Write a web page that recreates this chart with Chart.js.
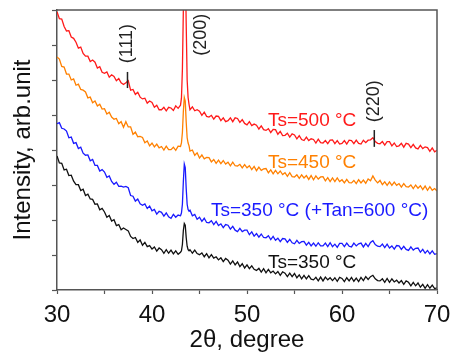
<!DOCTYPE html>
<html>
<head>
<meta charset="utf-8">
<script src="https://cdn.jsdelivr.net/npm/chart.js@4"></script>
<style>
  html, body { margin: 0; padding: 0; background: #fff; }
  canvas { display: block; }
</style>
</head>
<body>
<canvas id="xrd" width="450" height="352"></canvas>
<script>
// 2-theta grid, one row per degree (finer around the (200) reflection)
const twoTheta = [
  30, 30.25, 30.5, 30.75,
  31, 31.25, 31.5, 31.75,
  32, 32.25, 32.5, 32.75,
  33, 33.25, 33.5, 33.75,
  34, 34.25, 34.5, 34.75,
  35, 35.25, 35.5, 35.75,
  36, 36.25, 36.5, 36.75,
  37, 37.25, 37.5, 37.75,
  38, 38.25, 38.5, 38.75,
  39, 39.25, 39.5, 39.75,
  40, 40.25, 40.5, 40.75,
  41, 41.25, 41.5, 41.75,
  42, 42.25, 42.5, 42.75,
  43, 43.1, 43.2, 43.3, 43.4, 43.5, 43.6, 43.7, 43.8, 43.9,
  44, 44.25, 44.5, 44.75,
  45, 45.25, 45.5, 45.75,
  46, 46.25, 46.5, 46.75,
  47, 47.25, 47.5, 47.75,
  48, 48.25, 48.5, 48.75,
  49, 49.25, 49.5, 49.75,
  50, 50.25, 50.5, 50.75,
  51, 51.25, 51.5, 51.75,
  52, 52.25, 52.5, 52.75,
  53, 53.25, 53.5, 53.75,
  54, 54.25, 54.5, 54.75,
  55, 55.25, 55.5, 55.75,
  56, 56.25, 56.5, 56.75,
  57, 57.25, 57.5, 57.75,
  58, 58.25, 58.5, 58.75,
  59, 59.25, 59.5, 59.75,
  60, 60.25, 60.5, 60.75,
  61, 61.25, 61.5, 61.75,
  62, 62.25, 62.5, 62.75,
  63, 63.25, 63.5, 63.75,
  64, 64.25, 64.5, 64.75,
  65, 65.25, 65.5, 65.75,
  66, 66.25, 66.5, 66.75,
  67, 67.25, 67.5, 67.75,
  68, 68.25, 68.5, 68.75,
  69, 69.25, 69.5, 69.75,
  70
];

// intensities (arb. units, curves stacked with offsets)
const ts500 = [
  7.95, 7.75, 7.74, 7.53,
  7.40, 7.41, 7.23, 7.19,
  7.08, 6.91, 6.94, 6.76,
  6.68, 6.68, 6.53, 6.57,
  6.51, 6.34, 6.38, 6.22,
  6.19, 6.23, 6.08, 6.15,
  6.10, 5.98, 6.04, 5.92,
  5.87, 5.92, 5.98, 5.71,
  5.73, 5.59, 5.65, 5.51,
  5.46, 5.48, 5.34, 5.40,
  5.36, 5.22, 5.28, 5.15,
  5.15, 5.22, 5.12, 5.22,
  5.20, 5.13, 5.26, 5.19,
  5.28, 5.48, 6.30, 8.00, 9.60, 9.40, 7.60, 6.00, 5.50, 5.30,
  5.15, 5.23, 5.12, 5.15,
  5.11, 4.99, 5.08, 4.96,
  4.94, 4.99, 4.88, 4.97,
  4.96, 4.84, 4.92, 4.81,
  4.84, 4.92, 4.81, 4.92,
  4.90, 4.79, 4.87, 4.76,
  4.72, 4.81, 4.70, 4.74,
  4.71, 4.60, 4.69, 4.58,
  4.56, 4.61, 4.50, 4.59,
  4.58, 4.45, 4.53, 4.41,
  4.42, 4.48, 4.37, 4.46,
  4.43, 4.32, 4.41, 4.30,
  4.27, 4.37, 4.27, 4.32,
  4.30, 4.20, 4.31, 4.21,
  4.20, 4.27, 4.18, 4.28,
  4.29, 4.18, 4.27, 4.17,
  4.19, 4.27, 4.17, 4.28,
  4.27, 4.18, 4.28, 4.19,
  4.17, 4.28, 4.21, 4.28,
  4.29, 4.35, 4.24, 4.19,
  4.18, 4.24, 4.14, 4.24,
  4.24, 4.12, 4.20, 4.10,
  4.12, 4.19, 4.08, 4.19,
  4.17, 4.07, 4.16, 4.06,
  4.03, 4.13, 4.04, 4.09,
  4.07, 3.96, 4.06, 3.95,
  3.99
];

const ts450 = [
  6.66, 6.60, 6.39, 6.37,
  6.17, 6.17, 6.00, 6.03,
  5.85, 5.88, 5.73, 5.71,
  5.66, 5.49, 5.51, 5.35,
  5.40, 5.26, 5.31, 5.17,
  5.18, 5.03, 5.08, 4.94,
  4.88, 4.90, 4.75, 4.81,
  4.65, 4.81, 4.66, 4.66,
  4.45, 4.51, 4.38, 4.39,
  4.36, 4.21, 4.26, 4.12,
  4.20, 4.09, 4.17, 4.06,
  4.10, 4.00, 4.11, 4.01,
  4.01, 4.08, 3.99, 4.11,
  4.10, 4.20, 4.50, 5.10, 5.50, 5.40, 4.80, 4.35, 4.20, 4.12,
  3.97, 4.00, 3.85, 3.92,
  3.77, 3.86, 3.75, 3.79,
  3.78, 3.66, 3.73, 3.62,
  3.71, 3.61, 3.70, 3.60,
  3.65, 3.55, 3.65, 3.55,
  3.54, 3.59, 3.49, 3.58,
  3.49, 3.55, 3.44, 3.53,
  3.41, 3.51, 3.42, 3.46,
  3.47, 3.35, 3.43, 3.32,
  3.42, 3.32, 3.40, 3.30,
  3.35, 3.25, 3.35, 3.24,
  3.23, 3.29, 3.19, 3.29,
  3.20, 3.27, 3.16, 3.27,
  3.15, 3.26, 3.17, 3.23,
  3.24, 3.12, 3.21, 3.10,
  3.20, 3.10, 3.20, 3.10,
  3.15, 3.06, 3.16, 3.07,
  3.06, 3.13, 3.04, 3.15,
  3.06, 3.14, 3.05, 3.17,
  3.12, 3.26, 3.14, 3.06,
  3.13, 3.01, 3.09, 2.99,
  3.09, 2.99, 3.08, 2.99,
  3.04, 2.94, 3.04, 2.95,
  2.94, 3.00, 2.90, 3.00,
  2.91, 2.98, 2.87, 2.97,
  2.85, 2.95, 2.85, 2.90,
  2.83
];

const ts350Tan600 = [
  4.75, 4.78, 4.62, 4.60,
  4.54, 4.35, 4.37, 4.19,
  4.21, 4.04, 4.08, 3.91,
  3.85, 3.86, 3.69, 3.73,
  3.56, 3.56, 3.40, 3.44,
  3.37, 3.22, 3.26, 3.10,
  3.02, 3.08, 2.96, 2.97,
  2.94, 2.96, 2.92, 2.70,
  2.68, 2.54, 2.60, 2.46,
  2.42, 2.46, 2.33, 2.40,
  2.26, 2.30, 2.17, 2.25,
  2.22, 2.11, 2.20, 2.09,
  2.05, 2.16, 2.08, 2.14,
  2.12, 2.20, 2.45, 3.10, 3.60, 3.50, 2.90, 2.45, 2.30, 2.25,
  2.28, 2.12, 2.16, 2.02,
  2.08, 1.96, 2.05, 1.93,
  1.92, 1.98, 1.87, 1.96,
  1.84, 1.89, 1.78, 1.87,
  1.85, 1.74, 1.82, 1.71,
  1.67, 1.76, 1.67, 1.71,
  1.71, 1.58, 1.66, 1.54,
  1.61, 1.51, 1.60, 1.50,
  1.49, 1.55, 1.44, 1.53,
  1.42, 1.48, 1.38, 1.47,
  1.46, 1.36, 1.45, 1.35,
  1.32, 1.42, 1.33, 1.38,
  1.39, 1.28, 1.36, 1.26,
  1.34, 1.25, 1.35, 1.26,
  1.26, 1.34, 1.24, 1.35,
  1.24, 1.31, 1.22, 1.33,
  1.33, 1.24, 1.34, 1.25,
  1.23, 1.34, 1.26, 1.32,
  1.34, 1.23, 1.33, 1.24,
  1.36, 1.41, 1.30, 1.25,
  1.24, 1.31, 1.21, 1.31,
  1.20, 1.26, 1.17, 1.27,
  1.26, 1.16, 1.25, 1.16,
  1.13, 1.23, 1.14, 1.19,
  1.20, 1.08, 1.16, 1.05,
  1.13, 1.03, 1.12, 1.02,
  1.04
];

const ts350 = [
  3.83, 3.63, 3.62, 3.43,
  3.45, 3.27, 3.28, 3.11,
  3.01, 3.01, 2.84, 2.88,
  2.70, 2.74, 2.60, 2.59,
  2.45, 2.46, 2.29, 2.33,
  2.23, 2.08, 2.13, 1.97,
  2.01, 1.84, 1.87, 1.72,
  1.77, 1.73, 1.69, 1.53,
  1.47, 1.50, 1.36, 1.43,
  1.28, 1.36, 1.24, 1.27,
  1.17, 1.23, 1.11, 1.20,
  1.15, 1.05, 1.15, 1.05,
  1.14, 1.03, 1.12, 1.02,
  1.08, 1.12, 1.30, 1.70, 1.90, 1.85, 1.50, 1.25, 1.15, 1.12,
  1.15, 1.05, 1.14, 1.04,
  1.01, 1.06, 0.95, 1.04,
  0.92, 1.01, 0.91, 0.95,
  0.86, 0.92, 0.81, 0.90,
  0.85, 0.74, 0.83, 0.72,
  0.80, 0.67, 0.75, 0.63,
  0.72, 0.61, 0.69, 0.59,
  0.56, 0.62, 0.51, 0.61,
  0.49, 0.59, 0.49, 0.54,
  0.46, 0.53, 0.42, 0.52,
  0.48, 0.38, 0.48, 0.38,
  0.47, 0.35, 0.43, 0.32,
  0.42, 0.32, 0.41, 0.31,
  0.29, 0.36, 0.26, 0.37,
  0.26, 0.37, 0.29, 0.35,
  0.27, 0.35, 0.25, 0.36,
  0.33, 0.24, 0.35, 0.26,
  0.36, 0.25, 0.34, 0.24,
  0.36, 0.27, 0.38, 0.30,
  0.38, 0.42, 0.32, 0.27,
  0.26, 0.32, 0.22, 0.33,
  0.22, 0.32, 0.23, 0.28,
  0.20, 0.27, 0.16, 0.26,
  0.22, 0.12, 0.22, 0.12,
  0.20, 0.08, 0.16, 0.05,
  0.15, 0.05, 0.14, 0.04,
  0.06
];

const seriesNames = ['Ts=500 °C', 'Ts=450 °C', 'Ts=350 °C (+Tan=600 °C)', 'Ts=350 °C'];
const seriesColors = ['#ff1a1a', '#ff8000', '#1a1aff', '#111111'];
const peakNames = ['(111)', '(200)', '(220)'];

const FONT = 'Liberation Sans, Arial, sans-serif';
const AXIS = '#555555';

const toPoints = (ys) => twoTheta.map((x, i) => ({ x, y: ys[i] }));

// where the name of each curve sits, in 2theta / intensity units
const seriesLabelAt = [
  { x: 52.2, y: 4.84 },
  { x: 52.2, y: 3.64 },
  { x: 46.2, y: 2.27 },
  { x: 52.2, y: 0.79 },
]

// reflection labels (rotated) and their short marker dashes
const peakLabelAt = [
  { x: 37.42, y: 7.04, dash: [5.77, 6.23] },
  { x: 45.2, y: 7.29, dash: null },
  { x: 63.4, y: 5.39, dash: [4.09, 4.57] },
]

const annotations = {
  id: 'annotations',
  afterDatasetsDraw(chart) {
    const { ctx, chartArea, scales: { x, y } } = chart
    ctx.save()

    // close the frame on top and right
    ctx.strokeStyle = AXIS
    ctx.lineWidth = 1.5
    ctx.beginPath()
    ctx.moveTo(chartArea.left, chartArea.top)
    ctx.lineTo(chartArea.right, chartArea.top)
    ctx.lineTo(chartArea.right, chartArea.bottom)
    ctx.stroke()

    // curve names
    ctx.font = '19px ' + FONT
    ctx.textAlign = 'left'
    ctx.textBaseline = 'middle'
    seriesNames.forEach((name, i) => {
      ctx.fillStyle = seriesColors[i]
      ctx.fillText(name, x.getPixelForValue(seriesLabelAt[i].x), y.getPixelForValue(seriesLabelAt[i].y))
    })

    // reflection indices
    ctx.fillStyle = '#222'
    ctx.strokeStyle = '#222'
    ctx.lineWidth = 1.5
    ctx.font = '18px ' + FONT
    ctx.textAlign = 'center'
    peakNames.forEach((name, i) => {
      const p = peakLabelAt[i]
      const px = x.getPixelForValue(p.x)
      ctx.save()
      ctx.translate(px, y.getPixelForValue(p.y))
      ctx.rotate(-Math.PI / 2)
      ctx.fillText(name, 0, 0)
      ctx.restore()
      if (p.dash) {
        ctx.beginPath()
        ctx.moveTo(px, y.getPixelForValue(p.dash[0]))
        ctx.lineTo(px, y.getPixelForValue(p.dash[1]))
        ctx.stroke()
      }
    })
    ctx.restore()
  },
}

const datasets = [ts500, ts450, ts350Tan600, ts350].map((ys, i) => ({
  label: seriesNames[i],
  data: toPoints(ys),
  borderColor: seriesColors[i],
  borderWidth: 1.3,
  pointRadius: 0,
  tension: 0,
}))

new Chart(document.getElementById('xrd'), {
  type: 'line',
  data: { datasets },
  plugins: [annotations],
  options: {
    responsive: false,
    animation: false,
    devicePixelRatio: 1,
    layout: { padding: { top: 10, right: 13, left: 0, bottom: 0 } },
    plugins: { legend: { display: false }, tooltip: { enabled: false } },
    scales: {
      x: {
        type: 'linear',
        min: 30,
        max: 70,
        border: { color: AXIS, width: 1.5 },
        grid: { drawOnChartArea: false, tickLength: 4, color: AXIS, tickWidth: 1.2 },
        ticks: {
          stepSize: 5,
          autoSkip: false,
          maxRotation: 0,
          padding: 7,
          color: '#111',
          font: { family: FONT, size: 24 },
          callback: (v) => (v % 10 === 0 ? v : ''),
        },
        title: {
          display: true,
          text: '2θ, degree',
          color: '#111',
          font: { family: FONT, size: 24 },
          padding: { top: 0, bottom: -3 },
        },
        afterFit: (s) => {
          s.height = 62
          s.paddingLeft = 0
          s.paddingRight = 0
        },
      },
      y: {
        min: 0,
        max: 8,
        border: { color: AXIS, width: 1.5 },
        grid: { drawOnChartArea: false, tickLength: 5, color: AXIS, tickWidth: 1.2 },
        ticks: { stepSize: 1, display: false },
        title: {
          display: true,
          text: 'Intensity, arb.unit',
          color: '#111',
          font: { family: FONT, size: 24 },
          padding: { top: 9, bottom: 0 },
        },
        afterFit: (s) => { s.width = 57 },
      },
    },
  },
})
</script>
</body>
</html>
